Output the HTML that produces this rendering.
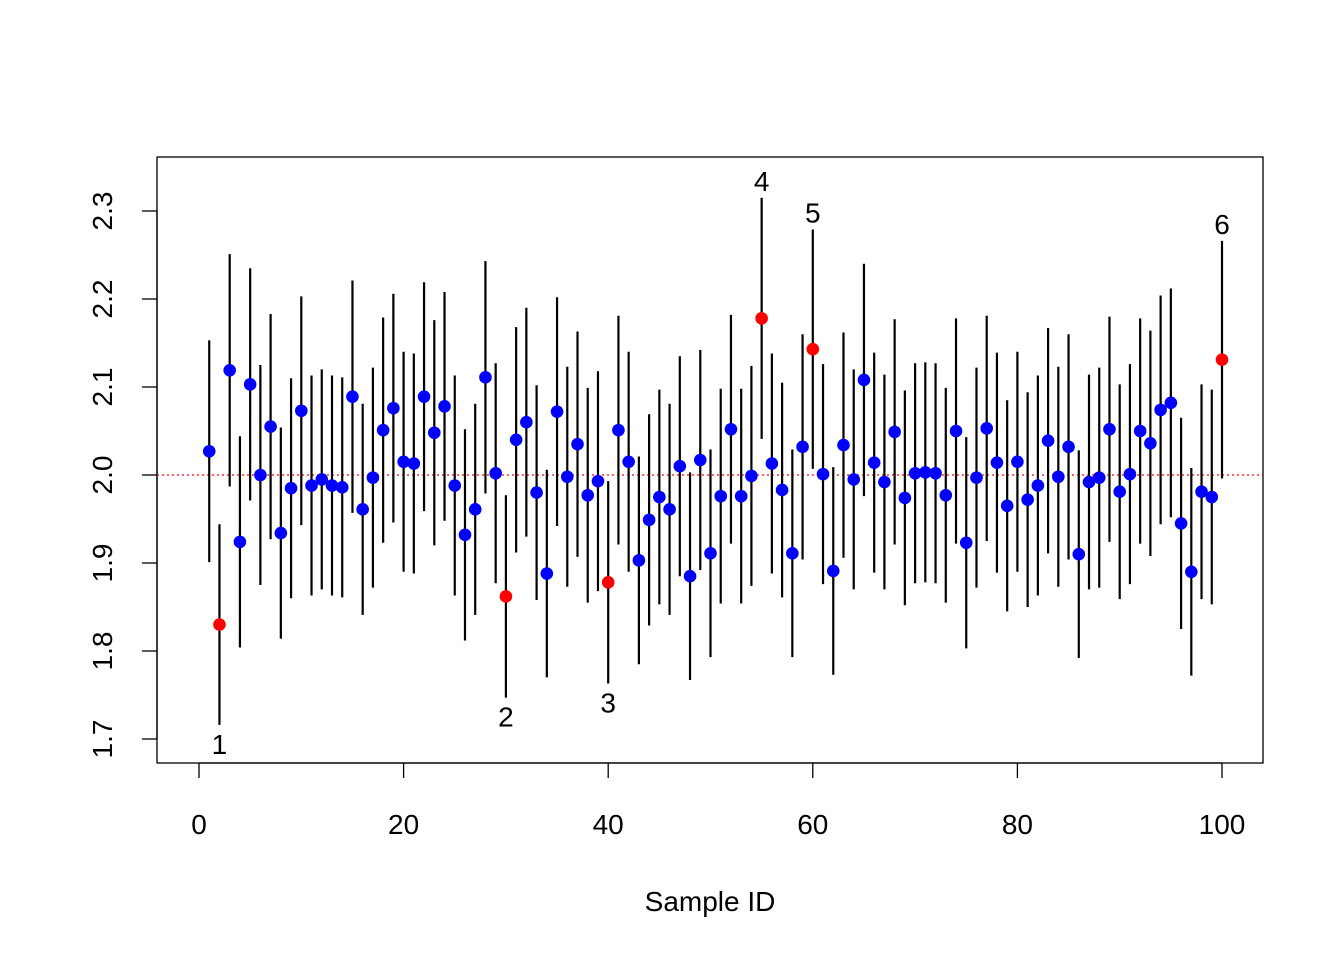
<!DOCTYPE html>
<html><head><meta charset="utf-8"><style>
body{margin:0;background:#fff}
svg text{font-family:"Liberation Sans",Arial,sans-serif;fill:#000}
</style></head><body>
<svg id="chart" width="1344" height="960" xmlns="http://www.w3.org/2000/svg">
<rect width="1344" height="960" fill="#fff"/>
<g id="plot"></g>
</svg>
<script>
const values = [2.027,1.830,2.119,1.924,2.103,2.000,2.055,1.934,1.985,2.073,
1.988,1.995,1.988,1.986,2.089,1.961,1.997,2.051,2.076,2.015,
2.013,2.089,2.048,2.078,1.988,1.932,1.961,2.111,2.002,1.862,
2.040,2.060,1.980,1.888,2.072,1.998,2.035,1.977,1.993,1.878,
2.051,2.015,1.903,1.949,1.975,1.961,2.010,1.885,2.017,1.911,
1.976,2.052,1.976,1.999,2.178,2.013,1.983,1.911,2.032,2.143,
2.001,1.891,2.034,1.995,2.108,2.014,1.992,2.049,1.974,2.002,
2.003,2.002,1.977,2.050,1.923,1.997,2.053,2.014,1.965,2.015,
1.972,1.988,2.039,1.998,2.032,1.910,1.992,1.997,2.052,1.981,
2.001,2.050,2.036,2.074,2.082,1.945,1.890,1.981,1.975,2.131];
const halfWidths = [0.126,0.114,0.132,0.12,0.132,0.125,0.128,0.12,0.125,0.13,
0.125,0.125,0.125,0.125,0.132,0.12,0.125,0.128,0.13,0.125,
0.125,0.13,0.128,0.13,0.125,0.12,0.12,0.132,0.125,0.115,
0.128,0.13,0.122,0.118,0.13,0.125,0.128,0.122,0.125,0.115,
0.13,0.125,0.118,0.12,0.122,0.12,0.125,0.118,0.125,0.118,
0.122,0.13,0.122,0.125,0.137,0.125,0.122,0.118,0.128,0.136,
0.125,0.118,0.128,0.125,0.132,0.125,0.122,0.128,0.122,0.125,
0.125,0.125,0.122,0.128,0.12,0.125,0.128,0.125,0.12,0.125,
0.122,0.125,0.128,0.125,0.128,0.118,0.122,0.125,0.128,0.122,
0.125,0.128,0.128,0.13,0.13,0.12,0.118,0.122,0.122,0.135];
const outlierIds = [2,30,40,55,60,100];
const xTicks = [0,20,40,60,80,100];
const yTicks = [1.7,1.8,1.9,2.0,2.1,2.2,2.3];
const refValue = 2.0;

const NS="http://www.w3.org/2000/svg";
const g=document.getElementById('plot');
const xs=v=>199+v*10.23;
const ys=v=>475-(v-2.0)*880;
function mk(t,a){const e=document.createElementNS(NS,t);for(const k in a)e.setAttribute(k,a[k]);g.appendChild(e);return e;}

let box=mk('rect',{x:157,y:157,width:1106,height:606,fill:'none',stroke:'#000','stroke-width':1.3});



// x axis
let xa=mk('line',{x1:xs(xTicks[0]),x2:xs(xTicks[xTicks.length-1]),y1:763,y2:763,stroke:'#000','stroke-width':1.3});


xTicks.forEach(t=>{
  let l=mk('line',{x1:xs(t),x2:xs(t),y1:763,y2:778,stroke:'#000','stroke-width':1.3});
  
  
  let tx=mk('text',{x:xs(t),y:834,'text-anchor':'middle','font-size':28});
  tx.textContent=t;
  
  
});
// y axis
let ya=mk('line',{x1:157,x2:157,y1:ys(yTicks[0]),y2:ys(yTicks[yTicks.length-1]),stroke:'#000','stroke-width':1.3});


yTicks.forEach(t=>{
  let l=mk('line',{x1:142,x2:157,y1:ys(t),y2:ys(t),stroke:'#000','stroke-width':1.3});
  
  
  let tx=mk('text',{x:0,y:0,'text-anchor':'middle','font-size':28,transform:`translate(112,${ys(t)}) rotate(-90)`});
  tx.textContent=t.toFixed(1);
  
  
});
let xt=mk('text',{x:710,y:911,'text-anchor':'middle','font-size':28});
xt.textContent='Sample ID';



let ref=mk('line',{x1:157,x2:1263,y1:ys(refValue),y2:ys(refValue),stroke:'#f00','stroke-width':1.3,'stroke-dasharray':'2,3'});



values.forEach((v,i)=>{
  const id=i+1,x=xs(id),hw=halfWidths[i];
  let b=mk('line',{x1:x,x2:x,y1:ys(v-hw),y2:ys(v+hw),stroke:'#000','stroke-width':2.2});
  
  
});
let n=0;
values.forEach((v,i)=>{
  const id=i+1,x=xs(id),hw=halfWidths[i];
  const out=outlierIds.includes(id);
  let c=mk('circle',{cx:x,cy:ys(v),r:6.3,fill:out?'#f00':'#00f'});
  
  
  if(out){
    n++;
    const up=v>refValue;
    const yy=up?ys(v+hw)-7:ys(v-hw)+29;
    let t=mk('text',{x:x,y:yy,'text-anchor':'middle','font-size':28});
    t.textContent=n;
    
    
  }
});
</script>
</body></html>
